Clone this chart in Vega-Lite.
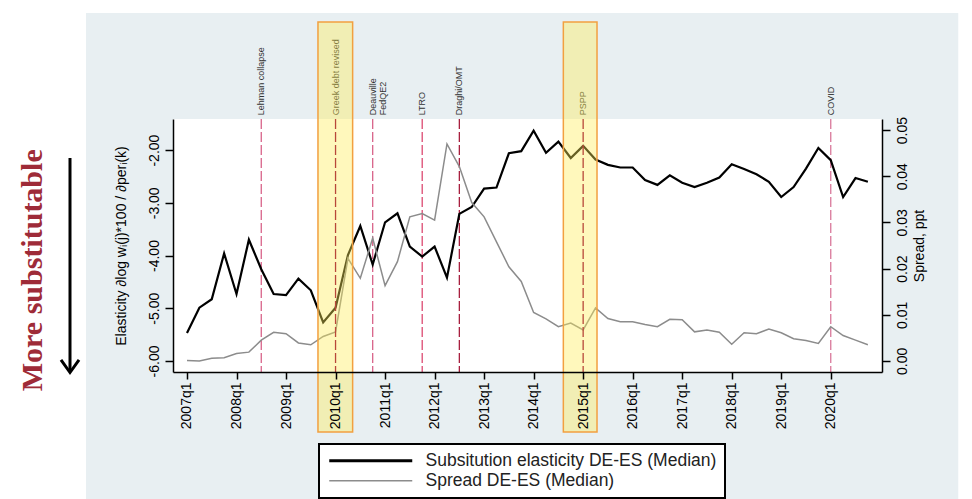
{
  "$schema": "https://vega.github.io/schema/vega-lite/v6.json",
  "width": 709,
  "height": 253,
  "autosize": {"type": "none"},
  "padding": {"left": 173, "top": 119, "right": 90, "bottom": 127},
  "background": "#E8EFF2",
  "config": {
    "view": {"stroke": null, "fill": "white"},
    "font": "Liberation Sans",
    "axis": {"grid": false, "domainColor": "black", "tickColor": "black", "labelColor": "black", "titleColor": "black", "labelFont": "Liberation Sans", "titleFont": "Liberation Sans", "domainWidth": 1.5, "tickWidth": 1.5, "labelFontSize": 14, "titleFontSize": 14, "titleFontWeight": "normal"}
  },
  "datasets": {
    "series": [
      {"t": 0, "elasticity": -5.47, "spread": 0.0001},
      {"t": 1, "elasticity": -4.99, "spread": 0.0000},
      {"t": 2, "elasticity": -4.83, "spread": 0.0006},
      {"t": 3, "elasticity": -3.96, "spread": 0.0007},
      {"t": 4, "elasticity": -4.73, "spread": 0.0016},
      {"t": 5, "elasticity": -3.70, "spread": 0.0019},
      {"t": 6, "elasticity": -4.26, "spread": 0.0045},
      {"t": 7, "elasticity": -4.73, "spread": 0.0062},
      {"t": 8, "elasticity": -4.75, "spread": 0.0059},
      {"t": 9, "elasticity": -4.44, "spread": 0.0039},
      {"t": 10, "elasticity": -4.66, "spread": 0.0035},
      {"t": 11, "elasticity": -5.27, "spread": 0.0053},
      {"t": 12, "elasticity": -4.99, "spread": 0.0063},
      {"t": 13, "elasticity": -3.99, "spread": 0.0222},
      {"t": 14, "elasticity": -3.44, "spread": 0.0179},
      {"t": 15, "elasticity": -4.17, "spread": 0.0266},
      {"t": 16, "elasticity": -3.37, "spread": 0.0163},
      {"t": 17, "elasticity": -3.20, "spread": 0.0215},
      {"t": 18, "elasticity": -3.83, "spread": 0.0312},
      {"t": 19, "elasticity": -4.02, "spread": 0.0319},
      {"t": 20, "elasticity": -3.83, "spread": 0.0305},
      {"t": 21, "elasticity": -4.42, "spread": 0.0470},
      {"t": 22, "elasticity": -3.21, "spread": 0.0421},
      {"t": 23, "elasticity": -3.08, "spread": 0.0343},
      {"t": 24, "elasticity": -2.73, "spread": 0.0312},
      {"t": 25, "elasticity": -2.71, "spread": 0.0258},
      {"t": 26, "elasticity": -2.06, "spread": 0.0204},
      {"t": 27, "elasticity": -2.02, "spread": 0.0172},
      {"t": 28, "elasticity": -1.63, "spread": 0.0105},
      {"t": 29, "elasticity": -2.05, "spread": 0.0091},
      {"t": 30, "elasticity": -1.84, "spread": 0.0074},
      {"t": 31, "elasticity": -2.15, "spread": 0.0082},
      {"t": 32, "elasticity": -1.92, "spread": 0.0067},
      {"t": 33, "elasticity": -2.18, "spread": 0.0115},
      {"t": 34, "elasticity": -2.28, "spread": 0.0092},
      {"t": 35, "elasticity": -2.33, "spread": 0.0085},
      {"t": 36, "elasticity": -2.33, "spread": 0.0085},
      {"t": 37, "elasticity": -2.57, "spread": 0.0079},
      {"t": 38, "elasticity": -2.66, "spread": 0.0074},
      {"t": 39, "elasticity": -2.48, "spread": 0.0090},
      {"t": 40, "elasticity": -2.62, "spread": 0.0089},
      {"t": 41, "elasticity": -2.70, "spread": 0.0063},
      {"t": 42, "elasticity": -2.62, "spread": 0.0067},
      {"t": 43, "elasticity": -2.52, "spread": 0.0062},
      {"t": 44, "elasticity": -2.27, "spread": 0.0036},
      {"t": 45, "elasticity": -2.36, "spread": 0.0061},
      {"t": 46, "elasticity": -2.46, "spread": 0.0059},
      {"t": 47, "elasticity": -2.60, "spread": 0.0069},
      {"t": 48, "elasticity": -2.89, "spread": 0.0061},
      {"t": 49, "elasticity": -2.70, "spread": 0.0048},
      {"t": 50, "elasticity": -2.35, "spread": 0.0044},
      {"t": 51, "elasticity": -1.96, "spread": 0.0038},
      {"t": 52, "elasticity": -2.19, "spread": 0.0074},
      {"t": 53, "elasticity": -2.89, "spread": 0.0055},
      {"t": 54, "elasticity": -2.53, "spread": 0.0045},
      {"t": 55, "elasticity": -2.60, "spread": 0.0035}
    ],
    "events": [
      {"t": 6, "label": "Lehman collapse"},
      {"t": 12, "label": "Greek debt revised"},
      {"t": 15, "label": "Deauville\nFedQE2"},
      {"t": 19, "label": "LTRO"},
      {"t": 22, "label": "Draghi/OMT"},
      {"t": 32, "label": "PSPP"},
      {"t": 52, "label": "COVID"}
    ],
    "bands": [
      {"event": "Greek debt revised", "start": 10.58, "end": 13.38, "low": -7.35, "high": 0.43},
      {"event": "PSPP", "start": 30.4, "end": 33.12, "low": -7.35, "high": 0.43}
    ],
    "margins": [
      {"part": "left", "start": -30, "end": -8.16, "low": -20, "high": 10},
      {"part": "top", "start": -30, "end": 90, "low": 0.6, "high": 10},
      {"part": "right", "start": 62.3, "end": 90, "low": -20, "high": 10}
    ],
    "annotation": [
      {"note": "More substitutable", "t": -11.7, "level": -4.28, "arrowTop": -2.15, "arrowBottom": -6.2, "arrowT": -9.45, "tip": -6.22}
    ]
  },
  "resolve": {"scale": {"y": "independent"}},
  "layer": [
    {
      "layer": [
        {
          "data": {"name": "margins"},
          "mark": {"type": "rect", "clip": false, "color": "white"},
          "encoding": {
            "x": {"field": "start", "type": "quantitative", "scale": {"domain": [-1.13, 56.14]},
              "axis": {"zindex": 1, "values": [0, 4, 8, 12, 16, 20, 24, 28, 32, 36, 40, 44, 48, 52], "labelExpr": "(2007 + datum.value / 4) + 'q1'", "labelAngle": 270, "tickSize": 7, "labelPadding": 3, "title": null}},
            "x2": {"field": "end"},
            "y": {"field": "low", "type": "quantitative", "scale": {"domain": [-6.21, -1.41]},
              "axis": {"zindex": 1, "orient": "left", "values": [-6, -5, -4, -3, -2], "labelExpr": "replace(format(datum.value, '.2f'), '\u2212', '-')", "labelAngle": 270, "tickSize": 8, "labelPadding": 4, "title": "Elasticity  \u2202log w\u1d62(j)*100 / \u2202per\u1d62(k)", "titlePadding": 19}},
            "y2": {"field": "high"}
          }
        },
        {
          "data": {"name": "events"},
          "transform": [{"filter": "datum.label !== 'Greek debt revised' && datum.label !== 'PSPP'"}],
          "mark": {"type": "rule", "strokeDash": [10, 3], "strokeWidth": 1.3},
          "encoding": {
            "x": {"field": "t", "type": "quantitative", "scale": {"domain": [-1.13, 56.14]}},
            "color": {"field": "label", "type": "nominal", "scale": {"domain": ["Lehman collapse", "Deauville\nFedQE2", "LTRO", "Draghi/OMT", "COVID"], "range": ["#D8648A", "#D8648A", "#DC4A72", "#A8203F", "#D9789A"]}, "legend": null}
          }
        },
        {
          "data": {"name": "events"},
          "mark": {"type": "text", "angle": 270, "align": "left", "baseline": "middle", "fontSize": 9, "color": "#333333", "lineBreak": "\n", "lineHeight": 10, "clip": false},
          "encoding": {
            "x": {"field": "t", "type": "quantitative", "scale": {"domain": [-1.13, 56.14]}},
            "y": {"datum": -1.34, "type": "quantitative", "scale": {"domain": [-6.21, -1.41]}},
            "text": {"field": "label"}
          }
        },
        {
          "data": {"name": "series"},
          "mark": {"type": "line", "strokeWidth": 2.2, "clip": false},
          "encoding": {
            "x": {"field": "t", "type": "quantitative", "scale": {"domain": [-1.13, 56.14]}},
            "y": {"field": "elasticity", "type": "quantitative", "scale": {"domain": [-6.21, -1.41]}},
            "stroke": {"datum": "Subsitution elasticity DE-ES (Median)", "type": "nominal",
              "scale": {"domain": ["Subsitution elasticity DE-ES (Median)", "Spread DE-ES (Median)"], "range": ["#000000", "#8C8C8C"]},
              "legend": {"orient": "none", "legendX": 146, "legendY": 325, "title": null, "direction": "vertical", "fillColor": "white", "strokeColor": "black", "padding": 8, "symbolType": "stroke", "symbolSize": 6889, "symbolOffset": 35, "labelFontSize": 17.5, "labelFont": "Liberation Sans", "labelColor": "#222222", "labelOffset": 46, "labelLimit": 500, "rowPadding": 1, "zindex": 2,
                "encode": {"legend": {"update": {"strokeWidth": {"value": 2}}}, "symbols": {"update": {"strokeWidth": {"signal": "datum.value === 'Spread DE-ES (Median)' ? 1.5 : 3"}}}}}}
          }
        },
        {
          "data": {"name": "annotation"},
          "mark": {"type": "text", "angle": 270, "align": "center", "baseline": "alphabetic", "font": "Liberation Serif", "fontWeight": "bold", "fontSize": 30, "color": "#9E2B38", "clip": false},
          "encoding": {
            "x": {"field": "t", "type": "quantitative", "scale": {"domain": [-1.13, 56.14]}},
            "y": {"field": "level", "type": "quantitative", "scale": {"domain": [-6.21, -1.41]}},
            "text": {"field": "note"}
          }
        },
        {
          "data": {"name": "annotation"},
          "mark": {"type": "rule", "strokeWidth": 3, "color": "black", "clip": false},
          "encoding": {
            "x": {"field": "arrowT", "type": "quantitative", "scale": {"domain": [-1.13, 56.14]}},
            "y": {"field": "arrowTop", "type": "quantitative", "scale": {"domain": [-6.21, -1.41]}},
            "y2": {"field": "arrowBottom"}
          }
        },
        {
          "data": {"name": "annotation"},
          "mark": {"type": "point", "shape": "M-1,-1.4L0,0L1,-1.4", "size": 324, "filled": false, "strokeWidth": 3, "color": "black", "opacity": 1, "clip": false},
          "encoding": {
            "x": {"field": "arrowT", "type": "quantitative", "scale": {"domain": [-1.13, 56.14]}},
            "y": {"field": "tip", "type": "quantitative", "scale": {"domain": [-6.21, -1.41]}}
          }
        }
      ]
    },
    {
      "data": {"name": "series"},
      "mark": {"type": "line", "strokeWidth": 1.5, "clip": false},
      "encoding": {
        "x": {"field": "t", "type": "quantitative", "scale": {"domain": [-1.13, 56.14]}},
        "y": {"field": "spread", "type": "quantitative", "scale": {"domain": [-0.0024, 0.0524]},
          "axis": {"zindex": 1, "orient": "right", "values": [0, 0.01, 0.02, 0.03, 0.04, 0.05], "format": ".2f", "labelAngle": 270, "tickSize": 8, "labelPadding": 5, "title": "Spread, ppt", "titleAngle": 270, "titleBaseline": "top", "titlePadding": 3}},
        "stroke": {"datum": "Spread DE-ES (Median)", "type": "nominal"}
      }
    },
    {
      "layer": [
        {
          "data": {"name": "bands"},
          "mark": {"type": "rect", "fill": "#FFEE58", "fillOpacity": 0.4, "stroke": "#F2A040", "strokeWidth": 1.5, "clip": false},
          "encoding": {
            "x": {"field": "start", "type": "quantitative", "scale": {"domain": [-1.13, 56.14]}},
            "x2": {"field": "end"},
            "y": {"field": "low", "type": "quantitative", "scale": {"domain": [-6.21, -1.41]}, "axis": null},
            "y2": {"field": "high"}
          }
        },
        {
          "data": {"name": "events"},
          "transform": [{"filter": "datum.label === 'Greek debt revised' || datum.label === 'PSPP'"}],
          "mark": {"type": "rule", "strokeDash": [10, 3], "strokeWidth": 1.3, "color": "#B8483A"},
          "encoding": {
            "x": {"field": "t", "type": "quantitative", "scale": {"domain": [-1.13, 56.14]}}
          }
        }
      ]
    }
  ]
}
